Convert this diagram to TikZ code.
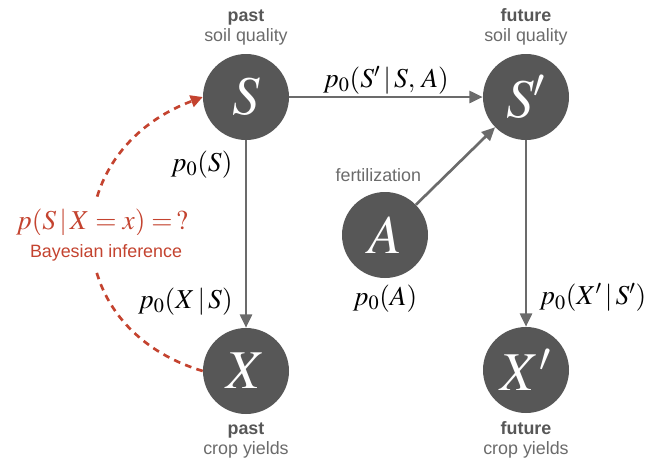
\documentclass[tikz,border=0pt]{standalone}
\usepackage{mathptmx}
\usepackage[no-math]{fontspec}
\setmainfont{Liberation Serif}
\setsansfont{Liberation Sans}
\definecolor{NodeGray}{HTML}{575757}
\definecolor{TextGray}{HTML}{6B6B6B}
\definecolor{EdgeGray}{HTML}{6B6B6B}
\definecolor{InferRed}{HTML}{C4432F}
\usetikzlibrary{shapes,arrows,arrows.meta,positioning}

\begin{document}
\begin{tikzpicture}[
  x=0.75pt, y=-0.75pt,
  var/.style={circle, fill=NodeGray, minimum size=64.5pt, inner sep=0pt, text=white, font=\fontsize{41}{41}\selectfont},
  lbl/.style={align=center, text=TextGray, inner sep=0pt, font=\sffamily\fontsize{13.4}{15}\selectfont},
  prob/.style={inner sep=0pt, font=\fontsize{20.5}{20.5}\selectfont},
  arrow/.style={-{Triangle[length=10pt,width=9pt]}, line width=2pt, draw=EdgeGray},
  infer/.style={-{Triangle[length=9pt,width=9pt]}, line width=2pt, draw=InferRed, dash pattern=on 5pt off 4pt}
]
  \useasboundingbox (0,0) rectangle (646,465);

  \node[var] (S) at (246,97) {$S$};
  \node[var] (Sp) at (526,97) {$S'$};
  \node[var] (A) at (385,235) {$A$};
  \node[var] (X) at (246,371) {$X$};
  \node[var] (Xp) at (526,370) {$X'$};

  \node[lbl, above=6pt of S] (Slbl) {{\bfseries\color{NodeGray}past}\\soil quality};
  \node[lbl, above=6pt of Sp] (Splbl) {{\bfseries\color{NodeGray}future}\\soil quality};
  \node[lbl, below=6pt of X] (Xlbl) {{\bfseries\color{NodeGray}past}\\crop yields};
  \node[lbl, below=6pt of Xp] (Xplbl) {{\bfseries\color{NodeGray}future}\\crop yields};
  \node[lbl, above=7pt of A, xshift=-5pt] (Albl) {fertilization};

  \draw[arrow] (S) -- node[prob, above=1pt] (trans) {$p_0(S'\,|\,S,\,A)$} (Sp);
  \draw[arrow] (S) -- node[prob, pos=0.86, left=9pt] (emit) {$p_0(X\,|\,S)$} (X);
  \draw[arrow] (A) -- (Sp);
  \draw[arrow] (Sp) -- node[prob, pos=0.845, right=9pt] (emitp) {$p_0(X'\,|\,S')$} (Xp);

  \node[prob, below left=8pt and 10pt of S.south] (prior) {$p_0(S)$};
  \node[prob, below=5pt of A] (priorA) {$p_0(A)$};

  \draw[infer] (X.west) .. controls (56,327) and (56,152) .. (S.west);
  \node[prob, text=InferRed, fill=white, inner xsep=3pt, inner ysep=6pt] (query) at (102,223) {$p(S\,|\,X=x)=\,?$};
  \node[lbl, text=InferRed, fill=white, inner xsep=3pt, inner ysep=7pt] (bayes) at (106,253) {Bayesian inference};
\end{tikzpicture}
\end{document}
